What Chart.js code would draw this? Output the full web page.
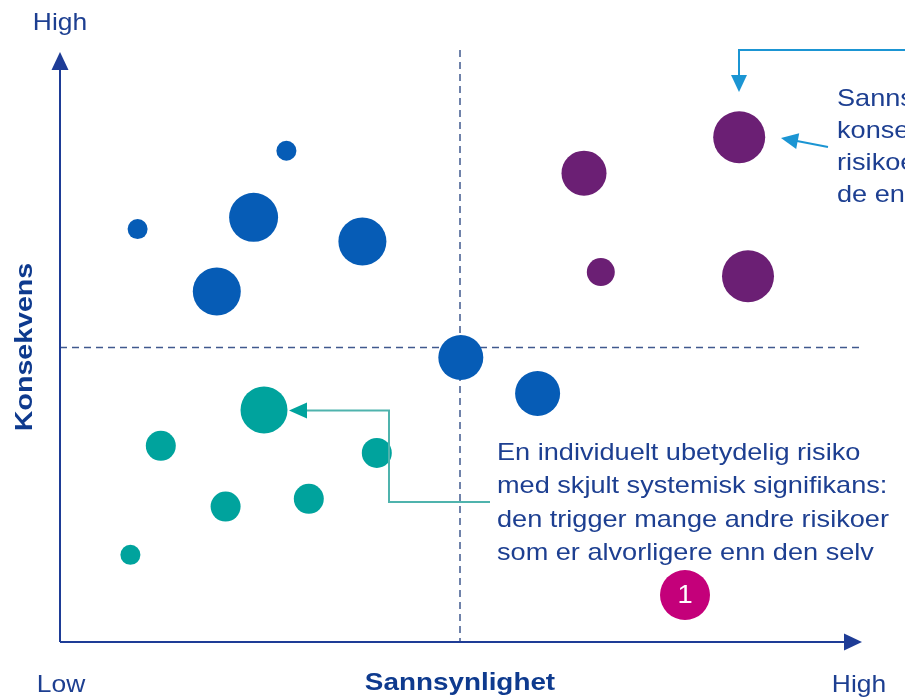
<!DOCTYPE html>
<html>
<head>
<meta charset="utf-8">
<script src="https://cdn.jsdelivr.net/npm/chart.js@4"></script>
<style>
  html, body { margin: 0; padding: 0; background: #fff; }
  #wrap { width: 905px; height: 700px; position: relative; }
</style>
</head>
<body>
<div id="wrap"><canvas id="riskMatrix"></canvas></div>
<script>
// Sannsynlighet (x) og konsekvens (y) på skala 0-100, størrelse = bobleradius
const blueProb = [28.3, 9.7, 24.2, 37.8, 19.6, 50.1, 59.7];
const blueCons = [83.4, 70.1, 72.1, 68.0, 59.5, 48.3, 42.2];
const blueSize = [10, 10, 24.5, 24, 24, 22.5, 22.5];

const purpleProb = [65.5, 84.9, 67.6, 86.0];
const purpleCons = [79.6, 85.7, 62.8, 62.1];
const purpleSize = [22.5, 26, 14, 26];

const tealProb = [25.5, 12.6, 39.6, 20.7, 31.1, 8.8];
const tealCons = [39.4, 33.3, 32.1, 23.0, 24.3, 14.8];
const tealSize = [23.5, 15, 15, 15, 15, 10];

const axisTicks = ["Low", "High"];
const axisTitles = ["Sannsynlighet", "Konsekvens"];
const midline = 50;

const noteMain = [
  "En individuelt ubetydelig risiko",
  "med skjult systemisk signifikans:",
  "den trigger mange andre risikoer",
  "som er alvorligere enn den selv"
];
const noteTop = ["Sannsynlighet og", "konsekvens av", "risikoer er høyere", "de enn antatt"];

const toPoints = (xs, ys, rs) => xs.map((x, i) => ({ x: x, y: ys[i], r: rs[i] }));

const textBlue = "#1d3f91";
const axisBlue = "#1e3c96";
const font = "'Liberation Sans', Arial, sans-serif";

function stretchText(ctx, text, x, y, size, bold, color, align, sx, rot) {
  ctx.save();
  ctx.translate(x, y);
  if (rot) ctx.rotate(rot);
  ctx.scale(sx, 1);
  ctx.font = (bold ? "bold " : "") + size + "px " + font;
  ctx.fillStyle = color;
  ctx.textAlign = align;
  ctx.textBaseline = "middle";
  ctx.fillText(text, 0, 0);
  ctx.restore();
}

function arrowHead(ctx, tipX, tipY, fromX, fromY, len, half, color) {
  const a = Math.atan2(tipY - fromY, tipX - fromX);
  ctx.save();
  ctx.translate(tipX, tipY);
  ctx.rotate(a);
  ctx.beginPath();
  ctx.moveTo(0, 0);
  ctx.lineTo(-len, -half);
  ctx.lineTo(-len, half);
  ctx.closePath();
  ctx.fillStyle = color;
  ctx.fill();
  ctx.restore();
}

const matrixPlugin = {
  id: "matrix",
  beforeDatasetsDraw(chart) {
    const ctx = chart.ctx;
    const xs = chart.scales.x;
    const ys = chart.scales.y;
    const x0 = xs.getPixelForValue(0);
    const y0 = ys.getPixelForValue(0);
    const xm = xs.getPixelForValue(midline);
    const ym = ys.getPixelForValue(midline);

    // dashed quadrant lines
    ctx.save();
    ctx.strokeStyle = "#40598e";
    ctx.lineWidth = 1.5;
    ctx.setLineDash([7, 5]);
    ctx.beginPath();
    ctx.moveTo(xm, 50);
    ctx.lineTo(xm, y0);
    ctx.moveTo(x0, ym);
    ctx.lineTo(862, ym);
    ctx.stroke();
    ctx.restore();

    // axes with arrows
    ctx.save();
    ctx.strokeStyle = axisBlue;
    ctx.lineWidth = 2;
    ctx.beginPath();
    ctx.moveTo(x0, y0);
    ctx.lineTo(x0, 66);
    ctx.moveTo(x0, y0);
    ctx.lineTo(848, y0);
    ctx.stroke();
    ctx.restore();
    arrowHead(ctx, x0, 52, x0, y0, 18, 8.5, axisBlue);
    arrowHead(ctx, 862, y0, x0, y0, 18, 8.5, axisBlue);
  },
  afterDatasetsDraw(chart) {
    const ctx = chart.ctx;
    const xs = chart.scales.x;
    const x0 = xs.getPixelForValue(0);
    const xm = xs.getPixelForValue(midline);

    // axis labels
    stretchText(ctx, axisTicks[1], x0, 23, 24, false, textBlue, "center", 1.1);
    stretchText(ctx, axisTicks[0], x0 + 1, 685, 24, false, textBlue, "center", 1.1);
    stretchText(ctx, axisTicks[1], 859, 685, 24, false, textBlue, "center", 1.1);
    stretchText(ctx, axisTitles[0], xm, 683, 24, true, "#0e3a8e", "center", 1.16);
    stretchText(ctx, axisTitles[1], 25, 347, 24, true, "#0e3a8e", "center", 1.19, -Math.PI / 2);

    // teal annotation
    const teal = "#4fb3ad";
    ctx.save();
    ctx.strokeStyle = teal;
    ctx.lineWidth = 2;
    ctx.beginPath();
    ctx.moveTo(490, 502);
    ctx.lineTo(389, 502);
    ctx.lineTo(389, 410.5);
    ctx.lineTo(305, 410.5);
    ctx.stroke();
    ctx.restore();
    arrowHead(ctx, 289, 410.5, 389, 410.5, 18, 8, "#00a39d");

    noteMain.forEach((line, i) => {
      stretchText(ctx, line, 497, 453 + i * 33.5, 24, false, textBlue, "left", 1.13);
    });

    // top right annotation
    const light = "#1b95d3";
    ctx.save();
    ctx.strokeStyle = light;
    ctx.lineWidth = 2;
    ctx.beginPath();
    ctx.moveTo(905, 50);
    ctx.lineTo(739, 50);
    ctx.lineTo(739, 76);
    ctx.moveTo(828, 147);
    ctx.lineTo(797, 141);
    ctx.stroke();
    ctx.restore();
    arrowHead(ctx, 739, 92, 739, 50, 17, 8, light);
    arrowHead(ctx, 781, 138, 828, 147, 17, 8, light);

    noteTop.forEach((line, i) => {
      stretchText(ctx, line, 837, 99 + i * 32, 24, false, textBlue, "left", 1.13);
    });

    // numbered marker
    ctx.save();
    ctx.beginPath();
    ctx.arc(685, 595, 25, 0, Math.PI * 2);
    ctx.fillStyle = "#c4007a";
    ctx.fill();
    ctx.restore();
    stretchText(ctx, "1", 685, 596, 26, false, "#ffffff", "center", 1.05);
  }
};

const canvas = document.getElementById("riskMatrix");

new Chart(canvas.getContext("2d"), {
  type: "bubble",
  data: {
    datasets: [
      {
        label: "Blå",
        data: toPoints(blueProb, blueCons, blueSize),
        backgroundColor: "#065cb6",
        borderWidth: 0,
        clip: false
      },
      {
        label: "Lilla",
        data: toPoints(purpleProb, purpleCons, purpleSize),
        backgroundColor: "#6b1f74",
        borderWidth: 0,
        clip: false
      },
      {
        label: "Turkis",
        data: toPoints(tealProb, tealCons, tealSize),
        backgroundColor: "#00a39d",
        borderWidth: 0,
        clip: false
      }
    ]
  },
  options: {
    responsive: true,
    maintainAspectRatio: false,
    animation: false,
    layout: { padding: { left: 60, right: 45, top: 53, bottom: 58 } },
    plugins: {
      legend: { display: false },
      tooltip: { enabled: false }
    },
    scales: {
      x: { type: "linear", min: 0, max: 100, display: false },
      y: { type: "linear", min: 0, max: 100, display: false }
    }
  },
  plugins: [matrixPlugin]
});
</script>
</body>
</html>
